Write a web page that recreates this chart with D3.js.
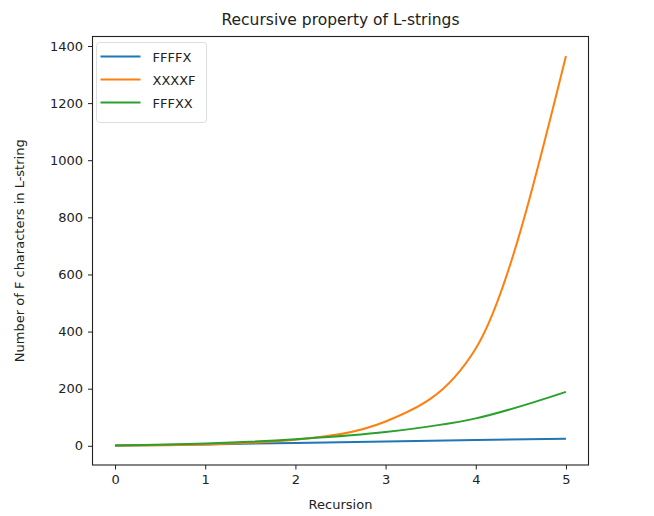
<!DOCTYPE html>
<html lang="en">
  <head>
    <meta charset="UTF-8" />
    <title>Recursive property of L-strings</title>
    <style>
      body { margin: 0; background: #fff; }
      text { font-family: "DejaVu Sans", sans-serif; fill: #222; }
      .axis text { font-size: 13px; }
      .axis path, .axis line { stroke: #222; }
    </style>
  </head>

  <body>
    <script src="https://cdn.jsdelivr.net/npm/d3@7"></script>
    <script>
      // values
      var recursion = [0, 1, 2, 3, 4, 5];
      var ffffx = [1, 5, 10, 15, 20, 25];
      var xxxxf = [1, 5, 21, 85, 341, 1365];
      var fffxx = [1, 8, 23, 48, 96, 189];
      var names = ["FFFFX", "XXXXF", "FFFXX"];
      var colors = ["#1f77b4", "#ff7f0e", "#2ca02c"];
      var yTicks = [0, 200, 400, 600, 800, 1000, 1200, 1400];

      var w = 654;
      var h = 516;

      var margin = {
        top: 36.5,
        right: 65.5,
        left: 92.5,
        bottom: 51
      };

      var svg = d3.select("body")
                  .append("svg")
                  .attr("width", w)
                  .attr("height", h);

      var series = [ffffx, xxxxf, fffxx];

      var xScale = d3.scaleLinear()
                     .domain([-0.25, 5.25])
                     .range([margin.left, w - margin.right]);

      var yScale = d3.scaleLinear()
                     .domain([-67.2, 1433.2])
                     .range([h - margin.bottom, margin.top]);

      var line = d3.line()
                   .x(function(d, i) { return xScale(recursion[i]); })
                   .y(function(d) { return yScale(d); })
                   .curve(d3.curveMonotoneX);

      svg.selectAll(".series")
         .data(series)
         .enter()
         .append("path")
         .attr("class", "series")
         .attr("d", line)
         .attr("fill", "none")
         .attr("stroke", function(d, i) { return colors[i]; })
         .attr("stroke-width", 2);

      // axes
      svg.append("g")
         .attr("class", "axis")
         .attr("transform", "translate(0," + (h - margin.bottom) + ")")
         .call(d3.axisBottom(xScale).tickValues(recursion).tickSize(4.5).tickPadding(5).tickFormat(d3.format("d")))
         .call(function(g) { g.select(".domain").remove(); });

      svg.append("g")
         .attr("class", "axis")
         .attr("transform", "translate(" + margin.left + ",0)")
         .call(d3.axisLeft(yScale).tickValues(yTicks).tickSize(4.5).tickPadding(5).tickFormat(d3.format("d")))
         .call(function(g) { g.select(".domain").remove(); });

      // frame
      svg.append("rect")
         .attr("x", margin.left)
         .attr("y", margin.top)
         .attr("width", w - margin.left - margin.right)
         .attr("height", h - margin.top - margin.bottom)
         .attr("fill", "none")
         .attr("stroke", "#222")
         .attr("stroke-width", 1.1);

      svg.append("text")
         .text("Recursive property of L-strings")
         .attr("x", (margin.left + w - margin.right) / 2)
         .attr("y", 25)
         .attr("text-anchor", "middle")
         .attr("font-size", "15.5px");

      svg.append("text")
         .text("Recursion")
         .attr("x", (margin.left + w - margin.right) / 2)
         .attr("y", 509)
         .attr("text-anchor", "middle")
         .attr("font-size", "13px");

      svg.append("text")
         .text("Number of F characters in L-string")
         .attr("transform", "translate(24," + ((margin.top + h - margin.bottom) / 2) + ") rotate(-90)")
         .attr("text-anchor", "middle")
         .attr("font-size", "13px");

      // legend
      var legend = svg.append("g")
                      .attr("transform", "translate(" + (margin.left + 4) + "," + (margin.top + 6) + ")");

      legend.append("rect")
            .attr("width", 110)
            .attr("height", 80)
            .attr("rx", 3)
            .attr("fill", "#fff")
            .attr("fill-opacity", 0.8)
            .attr("stroke", "#ddd");

      var item = legend.selectAll(".item")
                       .data(names)
                       .enter()
                       .append("g")
                       .attr("class", "item")
                       .attr("transform", function(d, i) { return "translate(0," + (14 + i * 23) + ")"; });

      item.append("line")
          .attr("x1", 4)
          .attr("x2", 44)
          .attr("stroke", function(d, i) { return colors[i]; })
          .attr("stroke-width", 2);

      item.append("text")
          .text(function(d) { return d; })
          .attr("x", 56)
          .attr("y", 5)
          .attr("font-size", "13px");
    </script>
  </body>
</html>
